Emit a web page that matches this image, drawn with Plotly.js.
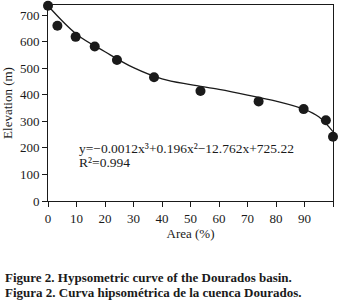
<!DOCTYPE html>
<html><head><meta charset="utf-8">
<script src="https://cdn.plot.ly/plotly-3.0.1.min.js"></script>
<style>html,body{margin:0;padding:0;background:#fff}</style>
</head><body>
<div id="chart" style="width:339px;height:305px"></div>
<script>
// Observed points (Area %, Elevation m)
const areaPct = [0, 3.3, 9.7, 16.4, 24.2, 37.2, 53.5, 73.9, 89.7, 97.5, 100];
const elevation = [735, 660, 618, 582, 531, 466, 414, 375, 346, 304, 242];
// Fitted curve
const curveArea = [0, 10, 20, 30, 40, 50, 60, 70, 80, 90, 95, 100];
const curveElev = [735, 628, 562, 502, 460, 438, 420, 399, 376, 345, 317, 261];
const xTicks = [0, 10, 20, 30, 40, 50, 60, 70, 80, 90, 100];
const yTicks = [0, 100, 200, 300, 400, 500, 600, 700];
const equationText = "y=−0.0012x³+0.196x²−12.762x+725.22";
const r2Text = "R²=0.994";
const captionEn = "Figure 2. Hypsometric curve of the Dourados basin.";
const captionEs = "Figura 2. Curva hipsométrica de la cuenca Dourados.";

const serif = "Liberation Serif, DejaVu Serif, serif";
const ink = '#1a1a1a';
const traces = [
  {x: curveArea, y: curveElev, type: 'scatter', mode: 'lines',
   line: {color: ink, width: 1.3, shape: 'spline', smoothing: 1}, hoverinfo: 'skip'},
  {x: areaPct, y: elevation, type: 'scatter', mode: 'markers',
   marker: {color: ink, size: 10}, cliponaxis: false}
];
const axisCommon = {showline: true, mirror: true, linecolor: ink, linewidth: 1,
  ticks: 'outside', ticklen: 5, tickcolor: ink, showgrid: false, zeroline: false,
  tickfont: {family: serif, size: 13, color: ink}};
const layout = {
  width: 339, height: 305, showlegend: false,
  margin: {l: 48, r: 6, t: 5, b: 104},
  paper_bgcolor: '#fff', plot_bgcolor: '#fff',
  font: {family: serif, color: ink},
  xaxis: Object.assign({}, axisCommon, {range: [0, 100], tickvals: xTicks, ticktext: xTicks.map(String),
    title: {text: 'Area (%)', font: {family: serif, size: 13, color: ink}, standoff: 0}}),
  yaxis: Object.assign({}, axisCommon, {range: [0, 738], tickvals: yTicks, ticktext: yTicks.map(String),
    ticklabelstandoff: 0,
    title: {text: 'Elevation (m)', font: {family: serif, size: 13, color: ink}, standoff: 4}}),
  annotations: [
    {xref: 'x', yref: 'y', x: 10.3, y: 199, text: equationText, showarrow: false,
     xanchor: 'left', yanchor: 'middle', font: {family: serif, size: 13.5, color: ink}},
    {xref: 'x', yref: 'y', x: 10.3, y: 146, text: r2Text, showarrow: false,
     xanchor: 'left', yanchor: 'middle', font: {family: serif, size: 13.5, color: ink}},
    {xref: 'paper', yref: 'paper', x: -45/285, y: -76/196, text: '<b>' + captionEn + '</b>', showarrow: false,
     xanchor: 'left', yanchor: 'middle', font: {family: serif, size: 13, color: ink}},
    {xref: 'paper', yref: 'paper', x: -45/285, y: -91/196, text: '<b>' + captionEs + '</b>', showarrow: false,
     xanchor: 'left', yanchor: 'middle', font: {family: serif, size: 13, color: ink}}
  ]
};
Plotly.newPlot('chart', traces, layout, {displayModeBar: false, staticPlot: true});
</script>
</body></html>
